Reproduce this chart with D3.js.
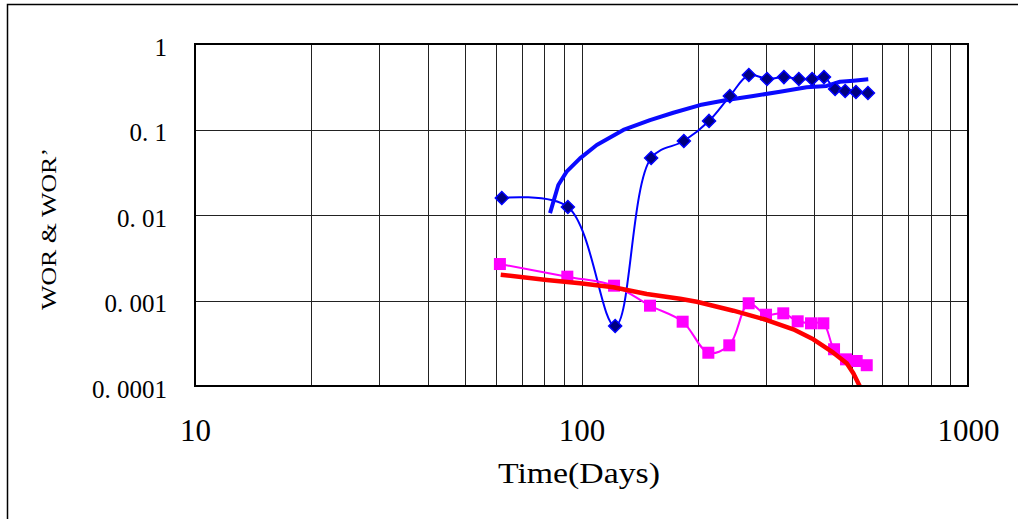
<!DOCTYPE html>
<html>
<head>
<meta charset="utf-8">
<script src="https://cdn.jsdelivr.net/npm/d3@7"></script>
<style>
  body { margin: 0; background: #fff; }
  svg { display: block; }
  .tick text { font-family: "Liberation Serif", serif; fill: #000; }
  .axis path { display: none; }
</style>
</head>
<body>
<script>
//Width and height
var w = 1018;
var h = 519;
var plot = { left: 195, right: 968, top: 44, bottom: 386 };

// WOR, blue diamonds (days, value)
var worDays   = [62.2, 92.2, 122.2, 151.4, 184, 213.8, 242, 271, 302, 334, 365, 395, 424, 453, 481, 513, 551];
var worValues = [0.0158, 0.0124, 0.000503, 0.0464, 0.0733, 0.126, 0.246, 0.434, 0.39, 0.41, 0.39, 0.39, 0.41, 0.298, 0.282, 0.275, 0.267];

// WOR' derivative, thick blue line
var derivDays   = [82.9, 87.1, 91.5, 99.1, 109.5, 128.3, 150.4, 172.8, 202.6, 237.5, 278.3, 326.3, 382.4, 431, 466.5, 505, 552];
var derivValues = [0.0105, 0.0224, 0.0321, 0.046, 0.0659, 0.0987, 0.129, 0.157, 0.193, 0.221, 0.246, 0.277, 0.312, 0.323, 0.362, 0.372, 0.386];

// second WOR series, magenta squares
var wor2Days   = [61.5, 91.9, 121.4, 150.4, 182.7, 212.9, 241.2, 270.7, 300.2, 332.7, 362.5, 392.5, 422.4, 450.2, 483.5, 515.2, 547];
var wor2Values = [0.00267, 0.0019, 0.00149, 0.00087, 0.000565, 0.000245, 0.000299, 0.000928, 0.000682, 0.000708, 0.000571, 0.000541, 0.000541, 0.000269, 0.000205, 0.000196, 0.000175];

// second derivative, thick red line
var fitDays   = [61.8, 81.3, 99.1, 120.9, 147.5, 179.8, 198.7, 247.1, 301.5, 353.2, 397.9, 448.3, 485.6, 505, 525.5];
var fitValues = [0.002, 0.00174, 0.00159, 0.00143, 0.00119, 0.00105, 0.000968, 0.00076, 0.000591, 0.00046, 0.000352, 0.000245, 0.000184, 0.000141, 0.0000982];

// ticks
var xTicks = [10, 100, 1000];
var xLabels = ["10", "100", "1000"];
var yTicks = [0.0001, 0.001, 0.01, 0.1, 1];
var yLabels = ["0. 0001", "0. 001", "0. 01", "0. 1", "1"];
var xGrid = [20, 30, 40, 50, 60, 70, 80, 90, 100, 200, 300, 400, 500, 600, 700, 800, 900];
var yGrid = [0.001, 0.01, 0.1];

function zip(xs, ys) {
  return xs.map(function(x, i) { return { x: x, y: ys[i] }; });
}

var xScale = d3.scaleLog().domain([10, 1000]).range([plot.left, plot.right]);
var yScale = d3.scaleLog().domain([0.0001, 1]).range([plot.bottom, plot.top]);

var svg = d3.select("body")
            .append("svg")
            .attr("width", w)
            .attr("height", h);

// outer chart frame
svg.append("rect")
   .attr("x", 7.5).attr("y", 4.5)
   .attr("width", w + 20).attr("height", h + 20)
   .attr("fill", "none")
   .attr("stroke", "#000")
   .attr("stroke-width", 1.5);

svg.append("clipPath")
   .attr("id", "plotClip")
   .append("rect")
   .attr("x", plot.left).attr("y", plot.top)
   .attr("width", plot.right - plot.left)
   .attr("height", plot.bottom - plot.top);

// gridlines
svg.append("g")
   .selectAll("line")
   .data(xGrid)
   .enter()
   .append("line")
   .attr("x1", function(d) { return Math.round(xScale(d)) + 0.5; })
   .attr("x2", function(d) { return Math.round(xScale(d)) + 0.5; })
   .attr("y1", plot.top)
   .attr("y2", plot.bottom)
   .attr("stroke", "#222")
   .attr("stroke-width", 1);

svg.append("g")
   .selectAll("line")
   .data(yGrid)
   .enter()
   .append("line")
   .attr("x1", plot.left)
   .attr("x2", plot.right)
   .attr("y1", function(d) { return Math.round(yScale(d)) + 0.5; })
   .attr("y2", function(d) { return Math.round(yScale(d)) + 0.5; })
   .attr("stroke", "#222")
   .attr("stroke-width", 1);

var smooth = d3.line()
               .x(function(d) { return xScale(d.x); })
               .y(function(d) { return yScale(d.y); })
               .curve(d3.curveCatmullRom.alpha(0.5));

var straight = d3.line()
                 .x(function(d) { return xScale(d.x); })
                 .y(function(d) { return yScale(d.y); });

var g = svg.append("g").attr("clip-path", "url(#plotClip)");

// WOR thin blue line + diamonds
g.append("path")
 .datum(zip(worDays, worValues))
 .attr("d", smooth)
 .attr("fill", "none")
 .attr("stroke", "#0000ff")
 .attr("stroke-width", 2);

// WOR' thick blue
g.append("path")
 .datum(zip(derivDays, derivValues))
 .attr("d", straight)
 .attr("fill", "none")
 .attr("stroke", "#0a0aff")
 .attr("stroke-width", 4)
 .attr("stroke-linejoin", "round");

g.selectAll(".diamond")
 .data(zip(worDays, worValues))
 .enter()
 .append("path")
 .attr("class", "diamond")
 .attr("d", "M0,-6.5L6.5,0L0,6.5L-6.5,0Z")
 .attr("transform", function(d) { return "translate(" + xScale(d.x) + "," + yScale(d.y) + ")"; })
 .attr("fill", "#000080")
 .attr("stroke", "#0000ff")
 .attr("stroke-width", 1.5);

// magenta thin line + squares
g.append("path")
 .datum(zip(wor2Days, wor2Values))
 .attr("d", smooth)
 .attr("fill", "none")
 .attr("stroke", "#ff00ff")
 .attr("stroke-width", 2);

g.selectAll(".square")
 .data(zip(wor2Days, wor2Values))
 .enter()
 .append("rect")
 .attr("class", "square")
 .attr("x", function(d) { return xScale(d.x) - 6; })
 .attr("y", function(d) { return yScale(d.y) - 6; })
 .attr("width", 12)
 .attr("height", 12)
 .attr("fill", "#ff00ff");

// red thick line
g.append("path")
 .datum(zip(fitDays, fitValues))
 .attr("d", straight)
 .attr("fill", "none")
 .attr("stroke", "#ff0000")
 .attr("stroke-width", 4.5)
 .attr("stroke-linejoin", "round");

// plot border
svg.append("rect")
   .attr("x", plot.left).attr("y", plot.top)
   .attr("width", plot.right - plot.left)
   .attr("height", plot.bottom - plot.top)
   .attr("fill", "none")
   .attr("stroke", "#000")
   .attr("stroke-width", 2);

// axes (labels only)
var xAxis = d3.axisBottom(xScale)
              .tickValues(xTicks)
              .tickSize(0)
              .tickFormat(function(d, i) { return xLabels[i]; });

var yAxis = d3.axisLeft(yScale)
              .tickValues(yTicks)
              .tickSize(0)
              .tickPadding(28)
              .tickFormat(function(d, i) { return yLabels[i]; });

var xg = svg.append("g")
   .attr("class", "axis")
   .attr("transform", "translate(0," + plot.bottom + ")")
   .call(xAxis);
xg.selectAll("text")
  .attr("y", 55)
  .attr("dy", 0)
  .style("font-size", "31px");

var yg = svg.append("g")
   .attr("class", "axis")
   .attr("transform", "translate(" + plot.left + ",0)")
   .call(yAxis);
yg.selectAll("text")
  .attr("dy", "0.45em")
  .style("font-size", "25px")
  .style("white-space", "pre");

// axis titles
svg.append("text")
   .attr("x", 579)
   .attr("y", 483)
   .attr("text-anchor", "middle")
   .attr("textLength", 162)
   .attr("lengthAdjust", "spacingAndGlyphs")
   .style("font-family", "Liberation Serif, serif")
   .style("font-size", "29px")
   .text("Time(Days)");

svg.append("text")
   .attr("transform", "translate(56,229) rotate(-90)")
   .attr("text-anchor", "middle")
   .attr("textLength", 162)
   .attr("lengthAdjust", "spacingAndGlyphs")
   .style("font-family", "Liberation Serif, serif")
   .style("font-size", "21px")
   .text("WOR & WOR\u2019");
</script>
</body>
</html>
